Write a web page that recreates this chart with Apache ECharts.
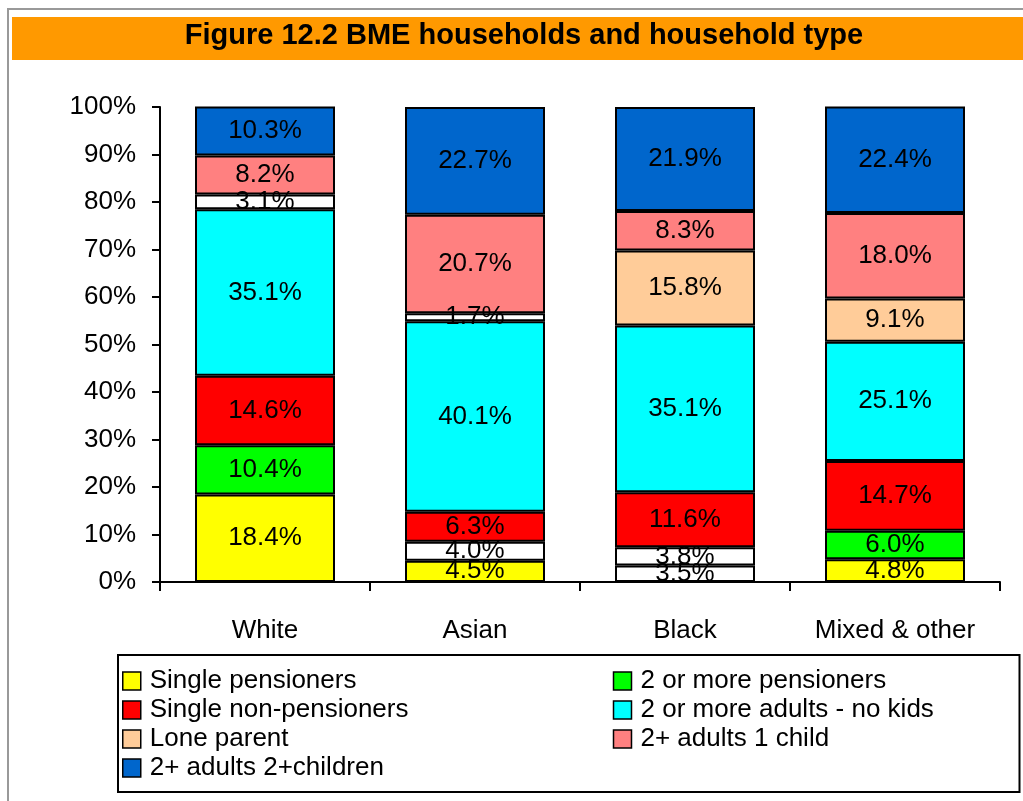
<!DOCTYPE html>
<html>
<head>
<meta charset="utf-8">
<script src="https://cdn.jsdelivr.net/npm/echarts@6/dist/echarts.min.js"></script>
<style>
  html, body { margin: 0; padding: 0; background: #fff; }
  #chart { width: 1023px; height: 801px; }
</style>
</head>
<body>
<div id="chart"></div>
<script>
var categories = ['White', 'Asian', 'Black', 'Mixed & other'];
var seriesNames = [
    'Single pensioners',
    '2 or more pensioners',
    'Single non-pensioners',
    '2 or more adults - no kids',
    'Lone parent',
    '2+ adults 1 child',
    '2+ adults 2+children'
];
var singlePensioners = [18.4, 4.5, 3.5, 4.8];
var twoPensioners = [10.4, 4.0, 3.8, 6.0];
var singleNonPensioners = [14.6, 6.3, 11.6, 14.7];
var adultsNoKids = [35.1, 40.1, 35.1, 25.1];
var loneParent = [3.1, 1.7, 15.8, 9.1];
var adultsOneChild = [8.2, 20.7, 8.3, 18.0];
var adultsTwoChildren = [10.3, 22.7, 21.9, 22.4];
var yTicks = [0, 10, 20, 30, 40, 50, 60, 70, 80, 90, 100];

var colors = ['#FFFF00', '#00FF00', '#FF0000', '#00FFFF', '#FFCC99', '#FF8080', '#0066CC'];
var values = [singlePensioners, twoPensioners, singleNonPensioners, adultsNoKids,
              loneParent, adultsOneChild, adultsTwoChildren];

var font = '"Liberation Sans", Arial, sans-serif';

var chart = echarts.init(document.getElementById('chart'));

var series = [];
seriesNames.forEach(function (name, i) {
    series.push({
        name: name,
        type: 'bar',
        stack: 'total',
        barWidth: 140,
        itemStyle: { color: colors[i], borderColor: '#000', borderWidth: 2 },
        label: {
            show: true,
            position: 'inside',
            color: '#000',
            fontFamily: font,
            fontSize: 26,
            formatter: function (p) { return p.value.toFixed(1) + '%'; }
        },
        // very thin segments come out white in the original (label box covers them)
        data: values[i].map(function (v) {
            return v < 4.2 ? { value: v, itemStyle: { color: '#FFFFFF' } } : v;
        })
    });
});

var legendData = seriesNames.map(function (n, i) {
    return { name: n, textStyle: { width: i % 2 === 0 ? 460 : 375 } };
});

var option = {
    animation: false,
    graphic: [
        { type: 'rect', shape: { x: 8, y: 9, width: 1040, height: 820 },
          style: { fill: 'none', stroke: '#999', lineWidth: 2 }, z: -1 },
        { type: 'rect', shape: { x: 12, y: 17, width: 1011, height: 43 },
          style: { fill: '#FF9900' }, z: 0 },
        { type: 'text', x: 524, y: 36,
          style: { text: 'Figure 12.2 BME households and household type', fill: '#000',
                   font: 'bold 29px ' + font, align: 'center', verticalAlign: 'middle' }, z: 1 }
    ],
    grid: { left: 160, right: 23, top: 107, bottom: 219 },
    legend: {
        left: 118,
        top: 655,
        width: 895,
        orient: 'horizontal',
        padding: [13, 4, 11, 4],
        itemGap: 3,
        itemWidth: 18,
        itemHeight: 18,
        icon: 'rect',
        borderColor: '#000',
        borderWidth: 2,
        itemStyle: { borderColor: '#000', borderWidth: 1.5 },
        textStyle: { color: '#000', fontFamily: font, fontSize: 26, lineHeight: 24,
                     padding: [0, 0, 0, 4] },
        data: legendData
    },
    xAxis: {
        type: 'category',
        data: categories,
        axisLine: { lineStyle: { color: '#000', width: 2 } },
        axisTick: { show: true, length: 9, lineStyle: { color: '#000', width: 2 } },
        axisLabel: { color: '#000', fontFamily: font, fontSize: 26, margin: 36 }
    },
    yAxis: {
        type: 'value',
        min: 0,
        max: 100,
        interval: 10,
        splitLine: { show: false },
        axisLine: { show: true, lineStyle: { color: '#000', width: 2 } },
        axisTick: { show: true, length: 8, lineStyle: { color: '#000', width: 2 } },
        axisLabel: {
            color: '#000', fontFamily: font, fontSize: 26, margin: 24,
            formatter: function (v) { return yTicks.indexOf(v) >= 0 ? v + '%' : ''; }
        }
    },
    series: series
};
chart.setOption(option);
window.onresize = chart.resize;
</script>
</body>
</html>
